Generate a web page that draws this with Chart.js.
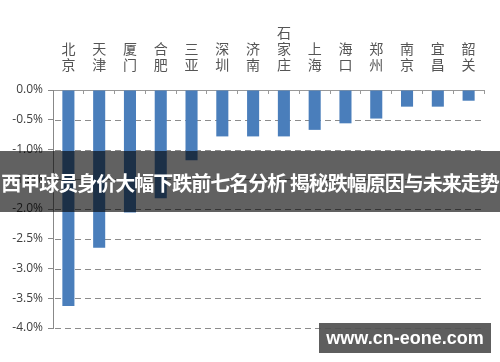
<!DOCTYPE html>
<html>
<head>
<meta charset="utf-8">
<script src="https://cdn.jsdelivr.net/npm/chart.js@4.4.1/dist/chart.umd.min.js"></script>
<style>
  body { margin: 0; background: #fff; }
  #wrap { position: relative; width: 500px; height: 362px; overflow: hidden; }
  #banner {
    position: absolute; left: 0; top: 151px; width: 500px; height: 61px;
    background: rgba(0, 0, 0, 0.62); color: #fff;
    font-family: "Noto Sans CJK SC", sans-serif; font-weight: bold; font-size: 20px;
    line-height: 64px; text-align: center; white-space: nowrap; letter-spacing: -1px;
  }
  #mark {
    position: absolute; left: 319px; top: 323px; width: 172px; height: 30px;
    background: rgba(80, 80, 80, 0.92); color: #fff;
    font-family: "Liberation Sans", sans-serif; font-weight: bold; font-size: 18px;
    line-height: 30px; text-align: center; white-space: nowrap;
  }
</style>
</head>
<body>
<div id="wrap">
  <canvas id="myChart" width="500" height="362"></canvas>
  <div id="banner">西甲球员身价大幅下跌前七名分析 揭秘跌幅原因与未来走势</div>
  <div id="mark">www.cn-eone.com</div>
</div>
<script>
// cities, each one written top to bottom
var cities = ['北京', '天津', '厦门', '合肥', '三亚', '深圳', '济南', '石家庄', '上海', '海口', '郑州', '南京', '宜昌', '韶关'];
// change in %
var values = [-3.63, -2.65, -2.06, -1.82, -1.18, -0.78, -0.78, -0.78, -0.67, -0.56, -0.48, -0.28, -0.28, -0.18];
var yTicks = [0, -0.5, -1, -1.5, -2, -2.5, -3, -3.5, -4];

// dashed horizontal grid, drawn under the bars
var dashedGrid = {
    id: 'dashedGrid',
    beforeDatasetsDraw: function (chart) {
        var c = chart.ctx, area = chart.chartArea, y = chart.scales.y;
        c.save();
        c.strokeStyle = '#8c8c8c';
        c.lineWidth = 1;
        c.setLineDash([6, 4]);
        y.ticks.forEach(function (t) {
            if (t.value === 0) return;
            var py = Math.round(y.getPixelForValue(t.value)) + 0.5;
            c.beginPath();
            c.moveTo(area.left + 2, py);
            c.lineTo(area.right, py);
            c.stroke();
        });
        c.restore();
    }
};

var ctx = document.getElementById('myChart').getContext('2d');
var myChart = new Chart(ctx, {
    type: 'bar',
    data: {
        labels: cities.map(function (c) { return c.split(''); }),
        datasets: [
            {
                label: 'change',
                data: values,
                backgroundColor: '#4a7ebb',
                barPercentage: 0.8,
                categoryPercentage: 0.49
            }
        ]
    },
    options: {
        responsive: false,
        animation: false,
        layout: { padding: { left: 0, right: 16, top: 0, bottom: 34 } },
        plugins: { legend: { display: false }, tooltip: { enabled: false } },
        scales: {
            x: {
                position: 'top',
                afterFit: function (scale) { scale.height = 90; },
                grid: { offset: true, drawOnChartArea: false, tickLength: -4, color: '#999' },
                border: { color: '#999' },
                ticks: {
                    autoSkip: false, maxRotation: 0, padding: 21.5, color: '#555',
                    font: { family: 'Noto Sans CJK SC', size: 14, lineHeight: 1.15 }
                }
            },
            y: {
                min: -4,
                max: 0,
                afterFit: function (scale) { scale.width = 53; },
                afterBuildTicks: function (scale) {
                    scale.ticks = yTicks.map(function (v) { return { value: v }; });
                },
                grid: {
                    drawOnChartArea: false,
                    color: '#888',
                    tickLength: 5
                },
                border: { color: '#888' },
                ticks: {
                    padding: 5, color: '#404040',
                    font: { family: 'Open Sans', size: 12 },
                    callback: function (v) { return v.toFixed(1) + '%'; }
                }
            }
        }
    },
    plugins: [dashedGrid]
});
</script>
</body>
</html>
